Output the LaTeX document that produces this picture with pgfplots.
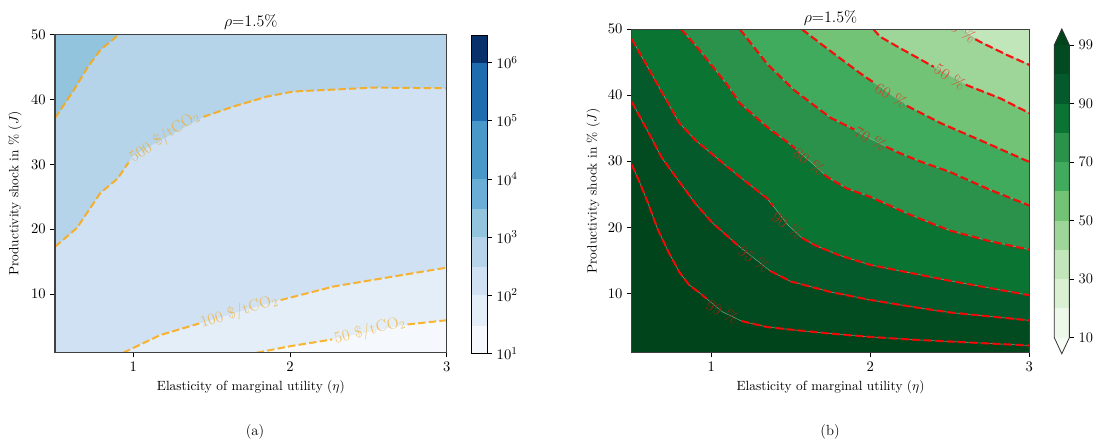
\documentclass[border=0pt]{standalone}
\usepackage{pgfplots}
\pgfplotsset{compat=1.18}
\definecolor{b1}{HTML}{F5F9FE}
\definecolor{b2}{HTML}{E3EEF8}
\definecolor{b3}{HTML}{CFE1F2}
\definecolor{b4}{HTML}{B5D4E9}
\definecolor{b5}{HTML}{93C4DE}
\definecolor{b6}{HTML}{6AAED6}
\definecolor{b7}{HTML}{4A98C9}
\definecolor{b8}{HTML}{1F6BB0}
\definecolor{b9}{HTML}{08306B}
\definecolor{g0}{HTML}{F7FCF5}
\definecolor{g1}{HTML}{EDF8EA}
\definecolor{g2}{HTML}{D9F0D3}
\definecolor{g3}{HTML}{C0E6B9}
\definecolor{g4}{HTML}{9ED69A}
\definecolor{g5}{HTML}{72C375}
\definecolor{g6}{HTML}{41AB5D}
\definecolor{g7}{HTML}{2A924A}
\definecolor{g8}{HTML}{0A7433}
\definecolor{g9}{HTML}{045A2A}
\definecolor{g10}{HTML}{024B21}
\definecolor{g11}{HTML}{00441B}
\definecolor{edgec}{HTML}{8CB496}
\definecolor{mplorange}{HTML}{FFA500}
\definecolor{mplred}{HTML}{FF0000}
\pgfplotsset{
  every tick label/.append style={font=\fontsize{11}{13}\selectfont},
  panel/.style={scale only axis, xmin=0.5, xmax=3, ymin=1, ymax=50,
    xtick={1,2,3}, ytick={10,20,30,40,50}, tick pos=left, tick align=outside,
    major tick length=3.5pt, axis on top,
    axis line style={black!75, line width=0.8pt},
    tick style={black, line width=0.6pt},
    xlabel={Elasticity of marginal utility ($\eta$)},
    ylabel={Productivity shock in \% ($J$)}},
}
\tikzset{
  odash/.style={draw=mplorange, draw opacity=0.8, line width=1.5pt, dash pattern=on 5.6pt off 2.4pt},
  olab/.style={font=\fontsize{12}{14}\selectfont, inner sep=0pt},
  rdash/.style={draw=mplred, draw opacity=0.9, line width=1.6pt, dash pattern=on 6pt off 2.6pt},
  rlab/.style={font=\fontsize{12}{14}\selectfont, inner sep=0pt},
  edge/.style={draw=edgec, line width=0.3pt},
}
\begin{document}
\begin{tikzpicture}
\useasboundingbox (0,0) rectangle (820.5pt,332.25pt);
% ---------------- left panel ----------------
\begin{axis}[panel, name=L, at={(41.25pt,67.7pt)}, anchor=south west,
  width=293.75pt, height=238.8pt,
  xlabel style={at={(axis description cs:0.5,-0.1076)}, anchor=center},
  ylabel style={at={(axis description cs:-0.102,0.5)}, anchor=center}]
\addplot[fill=b3, draw=none] coordinates {(0.5,1)(3,1)(3,50)(0.5,50)};
\addplot[fill=b4, draw=none] coordinates {(0.5,17.3)(0.64,20.2)(0.79,25.6)(0.9,27.8)(1.0,31.4)(1.2,34.05)(1.447,37.3)(1.64,38.9)(1.85,40.4)(2.02,41.2)(2.28,41.5)(2.53,41.8)(3.0,41.7)(3,50)(0.5,50)};
\addplot[fill=b5, draw=none] coordinates {(0.5,37.1)(0.62,41.4)(0.71,45.0)(0.79,47.6)(0.91,50)(0.5,50)};
\addplot[fill=b2, draw=none] coordinates {(0.936,1)(1.17,3.7)(1.425,5.5)(1.66,7.2)(1.936,9.1)(2.28,11.2)(3,14.1)(3,1)};
\addplot[fill=b1, draw=none] coordinates {(1.787,1)(2.0,2.0)(2.28,3.1)(2.5,4.2)(2.74,5.3)(3,6.0)(3,1)};
% lines
\addplot[odash] coordinates {(0.5,37.1)(0.62,41.4)(0.71,45.0)(0.79,47.6)(0.91,50)};
\addplot[odash] coordinates {(0.5,17.3)(0.64,20.2)(0.79,25.6)(0.9,27.8)(0.97,30.3)};
\addplot[odash] coordinates {(1.447,37.3)(1.64,38.9)(1.85,40.4)(2.02,41.2)(2.28,41.5)(2.53,41.8)(3.0,41.7)};
\addplot[odash] coordinates {(0.936,1)(1.17,3.7)(1.42,5.5)};
\addplot[odash] coordinates {(1.94,9.1)(2.28,11.2)(3,14.1)};
\addplot[odash] coordinates {(1.787,1)(2.0,2.0)(2.27,3.05)};
\addplot[odash] coordinates {(2.75,5.35)(3,6.0)};
\node[olab, text=mplorange!60!b4, rotate=34] at (axis cs:1.2,34.2) {500 \$/tCO$_2$};
\node[olab, text=mplorange!60!b3, rotate=17.6] at (axis cs:1.675,7.3) {100 \$/tCO$_2$};
\node[olab, text=mplorange!60!b2, rotate=14] at (axis cs:2.51,4.4) {50 \$/tCO$_2$};
\end{axis}
\node[anchor=base, yshift=5.7pt, font=\fontsize{12}{14}\selectfont] at (L.north) {$\rho$=1.5\%};
% left colorbar
\begin{axis}[scale only axis, at={(353.25pt,67.3pt)}, anchor=south west,
  width=12.25pt, height=238.7pt, xmin=0, xmax=1, ymode=log, ymin=10, ymax=3e6,
  xtick=\empty, ytick={10,100,1000,10000,100000,1000000}, yminorticks=false,
  ytick pos=right, tick align=outside, major tick length=3.5pt, axis on top,
  axis line style={black, line width=0.6pt}, tick style={black, line width=0.6pt}]
\addplot[fill=b1, draw=none] coordinates {(0,10)(1,10)(1,30)(0,30)};
\addplot[fill=b2, draw=none] coordinates {(0,30)(1,30)(1,100)(0,100)};
\addplot[fill=b3, draw=none] coordinates {(0,100)(1,100)(1,300)(0,300)};
\addplot[fill=b4, draw=none] coordinates {(0,300)(1,300)(1,1000)(0,1000)};
\addplot[fill=b5, draw=none] coordinates {(0,1000)(1,1000)(1,3000)(0,3000)};
\addplot[fill=b6, draw=none] coordinates {(0,3000)(1,3000)(1,10000)(0,10000)};
\addplot[fill=b7, draw=none] coordinates {(0,10000)(1,10000)(1,100000)(0,100000)};
\addplot[fill=b8, draw=none] coordinates {(0,100000)(1,100000)(1,1000000)(0,1000000)};
\addplot[fill=b9, draw=none] coordinates {(0,1000000)(1,1000000)(1,3000000)(0,3000000)};
\end{axis}
% ---------------- right panel ----------------
\begin{axis}[panel, name=R, at={(473.8pt,67.7pt)}, anchor=south west,
  width=298.2pt, height=242.6pt,
  xlabel style={at={(axis description cs:0.5,-0.106)}, anchor=center},
  ylabel style={at={(axis description cs:-0.097,0.5)}, anchor=center}]
\addplot[fill=g11, draw=none] coordinates {(0.5,1)(3,1)(3,50)(0.5,50)};
\addplot[fill=g10, draw=none] coordinates {(0.5,29.5)(0.55,26.8)(0.6,23.8)(0.66,19.9)(0.73,16.3)(0.8,13.2)(0.86,11.3)(0.93,10.0)(0.99,8.8)(1.07,7.2)(1.19,5.8)(1.35,4.9)(1.5,4.5)(1.75,3.9)(2.0,3.4)(2.25,3.0)(2.5,2.7)(2.75,2.4)(3.0,2.1)(3,50)(0.5,50)};
\addplot[fill=g9, draw=none] coordinates {(0.5,39.0)(0.6,34.6)(0.69,30.5)(0.79,27.2)(0.9,23.6)(1.01,20.6)(1.1,18.7)(1.17,17.2)(1.27,15.3)(1.37,13.4)(1.5,11.8)(1.75,10.2)(2.0,9.0)(2.25,8.0)(2.5,7.1)(2.75,6.5)(3.0,5.9)(3,50)(0.5,50)};
\addplot[fill=g8, draw=none] coordinates {(0.5,48.5)(0.6,44.3)(0.7,40.0)(0.8,35.8)(0.9,33.2)(1.0,31.2)(1.15,28.2)(1.35,24.4)(1.41,22.6)(1.48,20.4)(1.56,18.6)(1.65,17.3)(1.8,15.8)(2.0,14.3)(2.25,13.1)(2.5,11.9)(2.75,10.8)(3.0,9.7)(3,50)(0.5,50)};
\addplot[fill=g7, draw=none] coordinates {(0.81,50)(0.9,47.6)(1.01,44.3)(1.1,41.6)(1.18,38.8)(1.35,35.2)(1.5,32.5)(1.62,30.0)(1.73,27.6)(1.85,25.9)(2.0,24.6)(2.25,21.9)(2.5,19.5)(2.75,17.9)(3.0,16.6)(3,50)};
\addplot[fill=g6, draw=none] coordinates {(1.18,50)(1.35,44.8)(1.52,40.8)(1.75,36.6)(1.88,35.0)(2.0,33.4)(2.17,31.4)(2.3,30.1)(2.5,28.4)(2.75,25.7)(3.0,23.3)(3,50)};
\addplot[fill=g5, draw=none] coordinates {(1.57,50)(1.7,47.6)(1.81,45.6)(1.95,43.1)(2.03,41.8)(2.13,40.1)(2.24,38.3)(2.45,35.7)(2.7,33.1)(3.0,29.9)(3,50)};
\addplot[fill=g4, draw=none] coordinates {(2.02,50)(2.06,48.9)(2.19,47.1)(2.34,45.1)(2.4,44.3)(2.5,42.9)(2.61,41.5)(2.82,39.5)(3.0,37.3)(3,50)};
\addplot[fill=g3, draw=none] coordinates {(2.57,50)(2.61,49.3)(2.69,48.1)(2.86,46.1)(3.0,44.6)(3,50)};
% fill edges
\addplot[edge] coordinates {(0.5,29.5)(0.55,26.8)(0.6,23.8)(0.66,19.9)(0.73,16.3)(0.8,13.2)(0.86,11.3)(0.93,10.0)(0.99,8.8)(1.07,7.2)(1.19,5.8)(1.35,4.9)(1.5,4.5)(1.75,3.9)(2.0,3.4)(2.25,3.0)(2.5,2.7)(2.75,2.4)(3.0,2.1)};
\addplot[edge] coordinates {(0.5,39.0)(0.6,34.6)(0.69,30.5)(0.79,27.2)(0.9,23.6)(1.01,20.6)(1.1,18.7)(1.17,17.2)(1.27,15.3)(1.37,13.4)(1.5,11.8)(1.75,10.2)(2.0,9.0)(2.25,8.0)(2.5,7.1)(2.75,6.5)(3.0,5.9)};
\addplot[edge] coordinates {(0.5,48.5)(0.6,44.3)(0.7,40.0)(0.8,35.8)(0.9,33.2)(1.0,31.2)(1.15,28.2)(1.35,24.4)(1.41,22.6)(1.48,20.4)(1.56,18.6)(1.65,17.3)(1.8,15.8)(2.0,14.3)(2.25,13.1)(2.5,11.9)(2.75,10.8)(3.0,9.7)};
\addplot[edge] coordinates {(0.81,50)(0.9,47.6)(1.01,44.3)(1.1,41.6)(1.18,38.8)(1.35,35.2)(1.5,32.5)(1.62,30.0)(1.73,27.6)(1.85,25.9)(2.0,24.6)(2.25,21.9)(2.5,19.5)(2.75,17.9)(3.0,16.6)};
\addplot[edge] coordinates {(1.18,50)(1.35,44.8)(1.52,40.8)(1.75,36.6)(1.88,35.0)(2.0,33.4)(2.17,31.4)(2.3,30.1)(2.5,28.4)(2.75,25.7)(3.0,23.3)};
\addplot[edge] coordinates {(1.57,50)(1.7,47.6)(1.81,45.6)(1.95,43.1)(2.03,41.8)(2.13,40.1)(2.24,38.3)(2.45,35.7)(2.7,33.1)(3.0,29.9)};
\addplot[edge] coordinates {(2.02,50)(2.06,48.9)(2.19,47.1)(2.34,45.1)(2.4,44.3)(2.5,42.9)(2.61,41.5)(2.82,39.5)(3.0,37.3)};
\addplot[edge] coordinates {(2.57,50)(2.61,49.3)(2.69,48.1)(2.86,46.1)(3.0,44.6)};
% red dashed contour lines
\addplot[rdash] coordinates {(0.5,29.5)(0.55,26.8)(0.6,23.8)(0.66,19.9)(0.73,16.3)(0.8,13.2)(0.86,11.3)(0.93,10.0)(0.97,9.2)};
\addplot[rdash] coordinates {(1.19,5.8)(1.35,4.9)(1.5,4.5)(1.75,3.9)(2.0,3.4)(2.25,3.0)(2.5,2.7)(2.75,2.4)(3.0,2.1)};
\addplot[rdash] coordinates {(0.5,39.0)(0.6,34.6)(0.69,30.5)(0.79,27.2)(0.9,23.6)(1.01,20.6)(1.1,18.7)(1.17,17.2)};
\addplot[rdash] coordinates {(1.37,13.4)(1.5,11.8)(1.75,10.2)(2.0,9.0)(2.25,8.0)(2.5,7.1)(2.75,6.5)(3.0,5.9)};
\addplot[rdash] coordinates {(0.5,48.5)(0.6,44.3)(0.7,40.0)(0.8,35.8)(0.9,33.2)(1.0,31.2)(1.15,28.2)(1.35,24.4)(1.39,23.2)};
\addplot[rdash] coordinates {(1.57,18.4)(1.65,17.3)(1.8,15.8)(2.0,14.3)(2.25,13.1)(2.5,11.9)(2.75,10.8)(3.0,9.7)};
\addplot[rdash] coordinates {(0.81,50)(0.9,47.6)(1.01,44.3)(1.1,41.6)(1.18,38.8)(1.35,35.2)(1.5,32.5)(1.53,31.9)};
\addplot[rdash] coordinates {(1.71,28.0)(1.73,27.6)(1.85,25.9)(2.0,24.6)(2.25,21.9)(2.5,19.5)(2.75,17.9)(3.0,16.6)};
\addplot[rdash] coordinates {(1.18,50)(1.35,44.8)(1.52,40.8)(1.75,36.6)(1.9,34.8)};
\addplot[rdash] coordinates {(2.1,32.2)(2.17,31.4)(2.3,30.1)(2.5,28.4)(2.75,25.7)(3.0,23.3)};
\addplot[rdash] coordinates {(1.57,50)(1.7,47.6)(1.81,45.6)(1.95,43.1)(2.03,41.8)};
\addplot[rdash] coordinates {(2.23,38.4)(2.45,35.7)(2.7,33.1)(3.0,29.9)};
\addplot[rdash] coordinates {(2.02,50)(2.06,48.9)(2.19,47.1)(2.34,45.1)(2.4,44.3)};
\addplot[rdash] coordinates {(2.6,41.6)(2.82,39.5)(3.0,37.3)};
\addplot[rdash] coordinates {(2.66,48.5)(2.69,48.1)(2.86,46.1)(3.0,44.6)};
% labels
\node[rlab, text=mplred!55!g10, rotate=-29] at (axis cs:1.07,7.2) {99 \%};
\node[rlab, text=mplred!55!g9, rotate=-36] at (axis cs:1.27,15.2) {95 \%};
\node[rlab, text=mplred!58!g8, rotate=-36] at (axis cs:1.48,20.3) {90 \%};
\node[rlab, text=mplred!60!g7, rotate=-36] at (axis cs:1.615,30.0) {80 \%};
\node[rlab, text=mplred!60!g6, rotate=-29] at (axis cs:2.0,33.4) {70 \%};
\node[rlab, text=mplred!60!g5, rotate=-30] at (axis cs:2.13,40.0) {60 \%};
\node[rlab, text=mplred!60!g4, rotate=-34] at (axis cs:2.5,42.8) {50 \%};
\node[rlab, text=mplred!60!g3, rotate=-33] at (axis cs:2.565,49.95) {40 \%};
\end{axis}
\node[anchor=base, yshift=4.95pt, font=\fontsize{12}{14}\selectfont] at (R.north) {$\rho$=1.5\%};
% right colorbar
\begin{axis}[scale only axis, at={(790.7pt,79.0pt)}, anchor=south west,
  width=11.3pt, height=219.5pt, xmin=0, xmax=1, ymin=0, ymax=10, clip=false,
  xtick=\empty, ytick={0,2,4,6,8,10}, yticklabels={10,30,50,70,90,99},
  ytick pos=right, tick align=outside, major tick length=3.5pt,
  axis line style={draw=none}, tick style={black, line width=0.6pt}]
\addplot[fill=g0, draw=none] coordinates {(0,0)(0.5,-0.55)(1,0)};
\addplot[fill=g1, draw=none] coordinates {(0,0)(1,0)(1,1)(0,1)};
\addplot[fill=g2, draw=none] coordinates {(0,1)(1,1)(1,2)(0,2)};
\addplot[fill=g3, draw=none] coordinates {(0,2)(1,2)(1,3)(0,3)};
\addplot[fill=g4, draw=none] coordinates {(0,3)(1,3)(1,4)(0,4)};
\addplot[fill=g5, draw=none] coordinates {(0,4)(1,4)(1,5)(0,5)};
\addplot[fill=g6, draw=none] coordinates {(0,5)(1,5)(1,6)(0,6)};
\addplot[fill=g7, draw=none] coordinates {(0,6)(1,6)(1,7)(0,7)};
\addplot[fill=g8, draw=none] coordinates {(0,7)(1,7)(1,8)(0,8)};
\addplot[fill=g9, draw=none] coordinates {(0,8)(1,8)(1,9)(0,9)};
\addplot[fill=g10, draw=none] coordinates {(0,9)(1,9)(1,10)(0,10)};
\addplot[fill=g11, draw=none] coordinates {(0,10)(1,10)(0.5,10.55)};
\addplot[draw=black!80, line width=0.6pt] coordinates {(0,0)(0.5,-0.55)(1,0)(1,10)(0.5,10.55)(0,10)(0,0)};
\end{axis}
\node[font=\fontsize{11}{13}\selectfont] at (191.25pt,8.25pt) {(a)};
\node[font=\fontsize{11}{13}\selectfont] at (622.5pt,8.25pt) {(b)};
\end{tikzpicture}
\end{document}
